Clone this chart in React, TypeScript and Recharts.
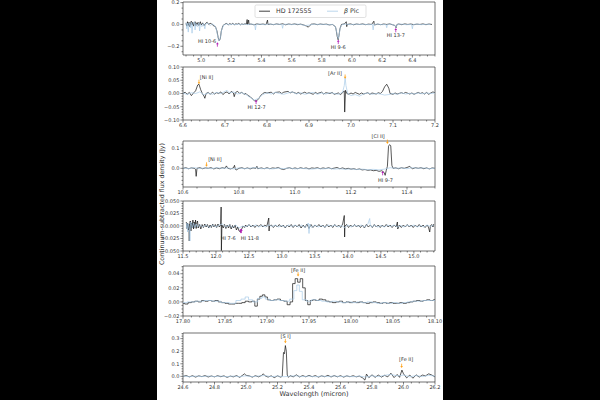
import React from "react";
import { ComposedChart, Line, XAxis, YAxis, ReferenceDot, ReferenceArea } from "recharts";

type Pt = [number, number];
type Feature = { name: string; wl: number; y: number; lx: number; ly: number; kind: "ion" | "hi" };

const HD_NAME = "HD 172555";
const BPIC_NAME = "Pic";
const X_LABEL = "Wavelength (micron)";
const Y_LABEL = "Continuum-subtracted flux density (Jy)";

// ---- panel 1: 4.9 - 6.5 micron ----
const P1_HD: Pt[] = [
  [4.9, 0.01], [4.905, -0.015], [4.91, 0.025], [4.915, -0.01], [4.92, 0.02], [4.925, -0.02], [4.93, 0.015], [4.935, 0.03],
  [4.94, -0.005], [4.945, 0.02], [4.95, -0.015], [4.955, 0.01], [4.96, 0.025], [4.965, -0.01], [4.97, 0.015], [4.975, 0.0],
  [4.98, 0.02], [4.985, -0.01], [4.99, 0.01], [4.995, 0.025], [5.0, -0.005], [5.01, 0.015], [5.02, -0.01], [5.03, 0.01],
  [5.04, 0.02], [5.05, 0.0], [5.06, 0.01], [5.07, 0.005], [5.08, -0.01], [5.095, -0.02], [5.105, -0.06], [5.113, -0.12],
  [5.12, -0.15], [5.127, -0.13], [5.134, -0.06], [5.145, -0.01], [5.16, 0.005], [5.17, 0.01], [5.18, -0.005], [5.19, 0.008],
  [5.2, 0.0], [5.21, 0.012], [5.22, -0.004], [5.23, 0.006], [5.24, 0.002], [5.25, 0.01], [5.26, -0.003], [5.27, 0.005],
  [5.28, 0.0], [5.29, 0.006], [5.3, 0.003], [5.305, 0.045], [5.308, 0.0], [5.315, 0.04], [5.318, 0.0], [5.33, 0.004],
  [5.35, -0.003], [5.37, 0.005], [5.39, 0.0], [5.41, 0.004], [5.43, -0.002], [5.44, 0.04], [5.443, 0.0], [5.46, 0.003],
  [5.48, -0.002], [5.5, 0.005], [5.52, 0.0], [5.54, 0.006], [5.56, -0.003], [5.58, 0.004], [5.6, 0.0], [5.62, 0.005],
  [5.64, -0.002], [5.66, 0.003], [5.68, -0.005], [5.7, -0.015], [5.71, -0.025], [5.72, -0.01], [5.73, 0.002], [5.75, 0.005],
  [5.77, -0.002], [5.79, 0.004], [5.81, 0.0], [5.83, 0.003], [5.85, -0.004], [5.87, 0.0], [5.89, -0.02], [5.895, -0.05],
  [5.902, -0.11], [5.908, -0.14], [5.914, -0.1], [5.92, -0.04], [5.93, 0.0], [5.95, 0.005], [5.962, 0.025], [5.965, -0.02],
  [5.968, 0.0], [5.99, 0.005], [6.01, -0.003], [6.03, 0.004], [6.05, 0.0], [6.07, 0.005], [6.09, -0.002], [6.11, 0.003],
  [6.13, 0.0], [6.145, 0.03], [6.148, -0.005], [6.17, 0.003], [6.19, -0.002], [6.21, 0.004], [6.23, 0.0], [6.25, 0.005],
  [6.27, -0.003], [6.285, -0.01], [6.292, -0.03], [6.298, 0.0], [6.31, 0.004], [6.33, -0.002], [6.35, 0.005], [6.37, 0.0],
  [6.39, 0.004], [6.41, -0.002], [6.43, 0.003], [6.45, 0.0], [6.47, 0.005], [6.49, -0.002], [6.51, 0.004], [6.53, 0.0],
];
const P1_BPIC: Pt[] = [
  [4.9, 0.02], [4.905, -0.04], [4.91, 0.01], [4.915, -0.07], [4.92, 0.015], [4.93, -0.03], [4.935, 0.02], [4.94, -0.08],
  [4.945, 0.005], [4.955, 0.025], [4.96, -0.05], [4.965, 0.01], [4.975, -0.02], [4.985, 0.015], [4.99, -0.06], [4.995, 0.005],
  [5.005, -0.02], [5.015, 0.01], [5.025, -0.04], [5.03, 0.005], [5.045, 0.01], [5.06, -0.01], [5.075, 0.005], [5.09, -0.01],
  [5.1, -0.04], [5.108, -0.09], [5.115, -0.14], [5.121, -0.15], [5.128, -0.12], [5.136, -0.05], [5.15, -0.005], [5.17, 0.005],
  [5.19, -0.003], [5.21, 0.004], [5.23, -0.002], [5.25, 0.003], [5.27, 0.0], [5.29, 0.004], [5.31, -0.002], [5.33, 0.003],
  [5.355, 0.0], [5.36, -0.05], [5.365, 0.0], [5.39, 0.003], [5.42, -0.002], [5.45, 0.004], [5.48, 0.0], [5.51, 0.003],
  [5.535, 0.0], [5.54, -0.035], [5.545, 0.0], [5.57, 0.003], [5.6, -0.002], [5.63, 0.004], [5.66, 0.0], [5.69, -0.01],
  [5.72, -0.005], [5.75, 0.003], [5.78, 0.0], [5.81, 0.002], [5.84, -0.003], [5.87, 0.0], [5.89, -0.02], [5.897, -0.06],
  [5.904, -0.11], [5.909, -0.13], [5.915, -0.09], [5.922, -0.03], [5.935, 0.0], [5.96, 0.003], [5.99, -0.002], [6.02, 0.003],
  [6.05, 0.0], [6.08, 0.002], [6.11, -0.002], [6.135, 0.0], [6.14, -0.05], [6.145, 0.0], [6.17, 0.003], [6.2, -0.002],
  [6.225, 0.0], [6.23, -0.03], [6.235, 0.0], [6.26, 0.002], [6.285, -0.01], [6.292, -0.025], [6.3, 0.0], [6.33, 0.003],
  [6.36, -0.002], [6.395, 0.0], [6.4, -0.04], [6.405, 0.0], [6.43, 0.003], [6.46, -0.002], [6.49, 0.002], [6.52, 0.0],
];
const P1_XTICKS = [5.0, 5.2, 5.4, 5.6, 5.8, 6.0, 6.2, 6.4];
const P1_YTICKS = [-0.2, 0.0, 0.2];
const P1_LINES: Feature[] = [
  { name: "HI 10-6", wl: 5.108, y: -0.18, lx: 5.04, ly: -0.15, kind: "hi" },
  { name: "HI 9-6", wl: 5.909, y: -0.156, lx: 5.909, ly: -0.208, kind: "hi" },
  { name: "HI 13-7", wl: 6.29, y: -0.048, lx: 6.29, ly: -0.095, kind: "hi" },
];

// ---- panel 2: 6.6 - 7.2 micron ----
const P2_HD: Pt[] = [
  [6.6, 0.0], [6.605, 0.005], [6.61, -0.003], [6.615, 0.004], [6.62, -0.008], [6.625, 0.002], [6.63, 0.01], [6.635, 0.032],
  [6.638, 0.035], [6.642, 0.015], [6.646, 0.0], [6.65, -0.01], [6.652, -0.018], [6.655, 0.0], [6.66, 0.004], [6.665, -0.003],
  [6.67, 0.005], [6.675, -0.002], [6.68, 0.003], [6.685, 0.0], [6.69, 0.006], [6.695, -0.004], [6.7, 0.003], [6.705, 0.006],
  [6.71, -0.002], [6.715, 0.008], [6.72, 0.002], [6.722, -0.012], [6.725, 0.004], [6.73, 0.008], [6.735, 0.0], [6.74, 0.005],
  [6.745, -0.003], [6.75, 0.0], [6.755, -0.008], [6.76, -0.012], [6.765, -0.02], [6.77, -0.027], [6.775, -0.028], [6.78, -0.02],
  [6.785, -0.008], [6.79, 0.0], [6.795, 0.004], [6.8, 0.002], [6.81, 0.005], [6.815, -0.002], [6.82, 0.004], [6.83, 0.006],
  [6.835, 0.0], [6.84, 0.005], [6.85, 0.008], [6.855, 0.002], [6.86, 0.006], [6.87, 0.0], [6.875, 0.004], [6.88, -0.002],
  [6.89, 0.005], [6.895, 0.0], [6.9, 0.003], [6.91, -0.003], [6.915, 0.004], [6.92, 0.0], [6.93, 0.005], [6.935, -0.002],
  [6.94, 0.003], [6.95, 0.0], [6.955, 0.004], [6.96, -0.003], [6.97, 0.002], [6.975, -0.004], [6.98, 0.003], [6.984, 0.01],
  [6.985, -0.07], [6.987, 0.012], [6.99, 0.0], [6.995, -0.003], [7.0, 0.002], [7.005, -0.002], [7.01, 0.004], [7.02, -0.003],
  [7.025, 0.002], [7.03, -0.002], [7.04, 0.003], [7.045, -0.003], [7.05, 0.002], [7.06, -0.002], [7.065, 0.003], [7.07, 0.0],
  [7.075, 0.008], [7.08, 0.025], [7.085, 0.035], [7.09, 0.02], [7.093, 0.0], [7.1, -0.003], [7.105, 0.002], [7.11, -0.002],
  [7.12, 0.003], [7.125, 0.0], [7.13, 0.004], [7.14, -0.002], [7.145, 0.002], [7.15, -0.003], [7.16, 0.004], [7.165, 0.0],
  [7.17, 0.003], [7.175, -0.002], [7.18, 0.004], [7.185, -0.003], [7.19, 0.002], [7.195, 0.006], [7.2, 0.003],
];
const P2_BPIC: Pt[] = [
  [6.6, 0.002], [6.61, -0.004], [6.62, 0.003], [6.63, 0.0], [6.64, 0.006], [6.65, -0.005], [6.66, 0.002], [6.67, -0.003],
  [6.68, 0.004], [6.69, 0.0], [6.7, 0.008], [6.705, 0.012], [6.71, 0.002], [6.72, 0.006], [6.73, -0.002], [6.74, 0.003],
  [6.75, -0.004], [6.76, -0.015], [6.77, -0.025], [6.78, -0.018], [6.79, -0.004], [6.8, 0.003], [6.81, -0.002], [6.82, 0.004],
  [6.83, 0.0], [6.84, -0.003], [6.85, 0.002], [6.86, 0.006], [6.87, -0.002], [6.88, 0.003], [6.89, -0.003], [6.9, 0.001],
  [6.91, 0.004], [6.92, -0.003], [6.93, 0.002], [6.94, -0.002], [6.95, 0.003], [6.96, 0.0], [6.97, -0.003], [6.98, 0.005],
  [6.984, 0.03], [6.986, 0.06], [6.988, 0.03], [6.992, 0.0], [7.0, -0.008], [7.01, -0.004], [7.02, -0.01], [7.03, -0.002],
  [7.04, 0.002], [7.05, -0.003], [7.06, 0.0], [7.07, -0.002], [7.08, -0.006], [7.09, -0.004], [7.1, 0.0], [7.11, -0.003],
  [7.12, 0.002], [7.13, -0.002], [7.14, 0.001], [7.15, -0.002], [7.16, 0.002], [7.17, -0.001], [7.18, 0.002], [7.19, 0.0],
  [7.2, 0.002],
];
const P2_XTICKS = [6.6, 6.7, 6.8, 6.9, 7.0, 7.1, 7.2];
const P2_YTICKS = [-0.1, -0.05, 0.0, 0.05, 0.1];
const P2_LINES: Feature[] = [
  { name: "[Ni II]", wl: 6.638, y: 0.042, lx: 6.656, ly: 0.062, kind: "ion" },
  { name: "HI 12-7", wl: 6.774, y: -0.03, lx: 6.775, ly: -0.05, kind: "hi" },
  { name: "[Ar II]", wl: 6.986, y: 0.062, lx: 6.962, ly: 0.077, kind: "ion" },
];

// ---- panel 3: 10.6 - 11.5 micron ----
const P3_HD: Pt[] = [
  [10.6, 0.0], [10.61, 0.003], [10.62, -0.002], [10.63, 0.002], [10.64, 0.0], [10.645, -0.005], [10.647, -0.04], [10.65, 0.0],
  [10.66, 0.003], [10.67, -0.002], [10.68, 0.002], [10.69, 0.0], [10.7, 0.003], [10.71, -0.003], [10.72, 0.002], [10.73, -0.002],
  [10.74, 0.003], [10.75, 0.0], [10.755, 0.012], [10.76, 0.0], [10.77, -0.003], [10.78, 0.002], [10.784, 0.015], [10.787, -0.005],
  [10.79, -0.008], [10.8, 0.0], [10.81, 0.003], [10.82, -0.002], [10.83, 0.002], [10.84, -0.003], [10.85, 0.002], [10.86, 0.0],
  [10.864, 0.01], [10.867, -0.002], [10.88, 0.002], [10.89, -0.002], [10.9, 0.003], [10.91, -0.002], [10.92, 0.002], [10.93, 0.0],
  [10.94, 0.004], [10.95, -0.003], [10.96, -0.006], [10.97, 0.0], [10.98, 0.003], [10.99, -0.002], [11.0, 0.002], [11.01, -0.002],
  [11.02, 0.003], [11.03, -0.001], [11.04, 0.002], [11.05, -0.003], [11.06, 0.002], [11.07, 0.0], [11.08, 0.003], [11.09, -0.002],
  [11.1, 0.002], [11.11, -0.001], [11.12, 0.003], [11.13, -0.002], [11.14, 0.001], [11.15, 0.004], [11.16, -0.002], [11.17, 0.002],
  [11.18, -0.003], [11.19, 0.0], [11.2, -0.004], [11.21, -0.002], [11.22, -0.006], [11.23, -0.003], [11.24, -0.008], [11.25, -0.006],
  [11.26, -0.01], [11.27, -0.008], [11.28, -0.012], [11.29, -0.01], [11.3, -0.015], [11.31, -0.012], [11.318, -0.02], [11.322, -0.035],
  [11.326, -0.01], [11.33, 0.01], [11.334, 0.11], [11.338, 0.118], [11.342, 0.112], [11.346, 0.015], [11.35, 0.0], [11.36, 0.002],
  [11.37, -0.002], [11.38, 0.003], [11.39, 0.0], [11.4, 0.004], [11.41, 0.01], [11.415, 0.002], [11.42, -0.002], [11.43, 0.003],
  [11.44, 0.0], [11.45, 0.003], [11.46, -0.002], [11.47, 0.002], [11.48, -0.003], [11.49, 0.002], [11.5, 0.0],
];
const P3_BPIC: Pt[] = [
  [10.6, 0.002], [10.62, -0.002], [10.64, 0.003], [10.66, -0.001], [10.68, 0.002], [10.7, -0.002], [10.72, 0.003], [10.74, 0.0],
  [10.76, 0.002], [10.78, -0.003], [10.8, 0.002], [10.82, -0.002], [10.84, 0.001], [10.86, 0.003], [10.88, -0.002], [10.9, 0.0],
  [10.92, -0.003], [10.94, 0.001], [10.96, -0.002], [10.98, 0.002], [11.0, -0.003], [11.02, 0.0], [11.04, -0.002], [11.06, -0.004],
  [11.08, -0.001], [11.1, -0.003], [11.12, 0.0], [11.14, -0.004], [11.16, -0.002], [11.18, -0.005], [11.2, -0.003], [11.22, -0.006],
  [11.24, -0.004], [11.26, -0.007], [11.28, -0.005], [11.3, -0.008], [11.32, -0.004], [11.34, 0.003], [11.36, 0.0], [11.38, 0.002],
  [11.4, -0.002], [11.42, 0.003], [11.44, 0.0], [11.46, 0.002], [11.48, -0.002], [11.5, 0.001],
];
const P3_XTICKS = [10.6, 10.8, 11.0, 11.2, 11.4];
const P3_YTICKS = [0.0, 0.1];
const P3_LINES: Feature[] = [
  { name: "[Ni II]", wl: 10.684, y: 0.017, lx: 10.714, ly: 0.045, kind: "ion" },
  { name: "HI 9-7", wl: 11.313, y: -0.022, lx: 11.323, ly: -0.058, kind: "hi" },
  { name: "[Cl II]", wl: 11.33, y: 0.13, lx: 11.297, ly: 0.158, kind: "ion" },
];

// ---- panel 4: 11.5 - 15.3 micron ----
const P4_HD: Pt[] = [
  [11.55, 0.008], [11.56, -0.005], [11.57, 0.006], [11.58, -0.008], [11.59, 0.004], [11.595, -0.03], [11.6, 0.0], [11.61, 0.01],
  [11.62, -0.01], [11.63, 0.006], [11.64, -0.004], [11.65, 0.012], [11.66, -0.006], [11.67, 0.008], [11.68, -0.003], [11.69, 0.012],
  [11.7, -0.005], [11.71, 0.006], [11.72, 0.01], [11.73, -0.004], [11.75, 0.004], [11.77, -0.006], [11.79, 0.003], [11.81, -0.003],
  [11.83, 0.004], [11.85, -0.002], [11.87, 0.003], [11.89, -0.004], [11.91, 0.002], [11.93, -0.003], [11.95, 0.004], [11.97, -0.002],
  [11.99, 0.003], [12.01, -0.003], [12.03, 0.004], [12.05, -0.002], [12.07, 0.002], [12.078, 0.038], [12.082, -0.049], [12.09, 0.002],
  [12.11, -0.004], [12.13, 0.003], [12.15, -0.005], [12.17, 0.002], [12.19, -0.004], [12.21, 0.003], [12.23, -0.006], [12.25, 0.001],
  [12.27, -0.004], [12.29, 0.002], [12.31, -0.008], [12.33, -0.002], [12.35, -0.01], [12.37, -0.012], [12.39, -0.006], [12.41, 0.0],
  [12.43, -0.003], [12.45, 0.002], [12.47, -0.002], [12.5, 0.003], [12.53, -0.002], [12.56, 0.002], [12.59, -0.003], [12.62, 0.002],
  [12.65, -0.001], [12.68, 0.003], [12.71, -0.002], [12.74, 0.002], [12.77, -0.001], [12.8, 0.016], [12.805, -0.01], [12.81, 0.0],
  [12.84, 0.002], [12.87, -0.003], [12.9, 0.002], [12.93, -0.002], [12.96, 0.003], [12.99, -0.002], [13.02, 0.002], [13.05, -0.004],
  [13.08, 0.002], [13.11, -0.002], [13.14, 0.003], [13.17, -0.003], [13.2, 0.002], [13.23, -0.002], [13.26, 0.003], [13.29, -0.004],
  [13.32, 0.002], [13.35, -0.003], [13.38, 0.004], [13.41, -0.005], [13.44, 0.003], [13.47, -0.003], [13.5, 0.002], [13.53, -0.002],
  [13.56, 0.003], [13.59, -0.002], [13.62, 0.002], [13.65, -0.003], [13.68, 0.003], [13.71, -0.002], [13.74, 0.002], [13.77, -0.003],
  [13.8, 0.003], [13.83, -0.002], [13.86, 0.002], [13.89, -0.003], [13.92, 0.004], [13.945, 0.021], [13.95, -0.022], [13.955, 0.0],
  [13.98, 0.003], [14.01, -0.003], [14.04, 0.002], [14.07, -0.002], [14.1, 0.003], [14.13, -0.002], [14.16, 0.002], [14.19, -0.003],
  [14.22, 0.002], [14.25, -0.004], [14.28, 0.003], [14.31, -0.002], [14.34, 0.002], [14.37, -0.003], [14.4, 0.003], [14.43, -0.002],
  [14.46, 0.002], [14.49, -0.003], [14.52, 0.002], [14.55, -0.002], [14.58, 0.003], [14.61, -0.002], [14.64, 0.002], [14.67, -0.003],
  [14.7, 0.002], [14.73, -0.002], [14.75, 0.008], [14.755, -0.006], [14.78, 0.002], [14.81, -0.003], [14.84, 0.002], [14.87, -0.002],
  [14.9, 0.003], [14.93, -0.002], [14.96, 0.002], [14.99, -0.003], [15.02, 0.002], [15.05, -0.002], [15.08, 0.003], [15.11, -0.002],
  [15.14, 0.002], [15.17, -0.003], [15.2, 0.002], [15.22, -0.002], [15.24, -0.012], [15.25, 0.0], [15.27, 0.003], [15.29, -0.002],
  [15.3, 0.004],
];
const P4_BPIC: Pt[] = [
  [11.55, -0.004], [11.56, 0.006], [11.57, -0.012], [11.58, 0.004], [11.6, -0.008], [11.605, -0.03], [11.61, 0.0], [11.62, 0.008],
  [11.64, -0.004], [11.66, 0.006], [11.68, -0.003], [11.7, 0.004], [11.72, -0.002], [11.75, 0.003], [11.8, -0.002], [11.85, 0.002],
  [11.9, -0.003], [11.95, 0.002], [12.0, -0.002], [12.05, 0.002], [12.1, 0.004], [12.15, -0.002], [12.2, 0.002], [12.25, -0.003],
  [12.3, 0.002], [12.35, -0.004], [12.4, 0.0], [12.45, -0.002], [12.5, 0.002], [12.55, -0.001], [12.6, 0.002], [12.65, -0.002],
  [12.7, 0.001], [12.75, -0.002], [12.8, 0.002], [12.85, -0.001], [12.9, 0.002], [12.95, -0.002], [13.0, 0.001], [13.05, -0.002],
  [13.1, 0.002], [13.15, -0.001], [13.2, 0.002], [13.25, -0.002], [13.3, 0.002], [13.35, -0.003], [13.4, 0.006], [13.41, -0.015],
  [13.42, 0.004], [13.45, -0.003], [13.5, 0.002], [13.55, -0.002], [13.6, 0.001], [13.65, -0.002], [13.7, 0.002], [13.75, -0.001],
  [13.8, 0.002], [13.85, -0.002], [13.9, 0.001], [13.95, -0.003], [14.0, 0.002], [14.05, -0.002], [14.1, 0.002], [14.15, -0.001],
  [14.2, 0.002], [14.25, -0.002], [14.3, 0.003], [14.33, 0.015], [14.34, 0.0], [14.37, -0.002], [14.4, 0.002], [14.45, -0.002],
  [14.5, 0.001], [14.55, -0.002], [14.6, 0.002], [14.65, -0.001], [14.7, 0.002], [14.75, -0.002], [14.8, 0.001], [14.85, -0.002],
  [14.9, 0.002], [14.95, -0.001], [15.0, 0.002], [15.05, -0.002], [15.1, 0.001], [15.15, -0.002], [15.2, 0.002], [15.25, -0.001],
  [15.3, 0.002],
];
const P4_XTICKS = [11.5, 12.0, 12.5, 13.0, 13.5, 14.0, 14.5, 15.0];
const P4_YTICKS = [-0.05, -0.025, 0.0, 0.025, 0.05];
const P4_LINES: Feature[] = [
  { name: "HI 7-6", wl: 12.372, y: -0.009, lx: 12.185, ly: -0.024, kind: "hi" },
  { name: "HI 11-8", wl: 12.387, y: -0.009, lx: 12.515, ly: -0.024, kind: "hi" },
];

// ---- panel 5: 17.80 - 18.10 micron ----
const P5_HD: Pt[] = [
  [17.8, -0.002], [17.804, -0.003], [17.808, -0.001], [17.812, 0.0], [17.816, 0.001], [17.82, 0.0], [17.824, 0.002], [17.828, 0.001],
  [17.832, 0.002], [17.836, 0.001], [17.84, 0.002], [17.844, 0.0], [17.848, -0.001], [17.852, -0.002], [17.856, -0.003], [17.86, -0.003],
  [17.864, -0.002], [17.868, -0.002], [17.872, -0.001], [17.876, 0.001], [17.88, 0.0], [17.884, 0.001], [17.887, -0.006], [17.89, 0.004],
  [17.893, 0.008], [17.896, 0.01], [17.899, 0.007], [17.902, 0.003], [17.906, 0.002], [17.91, 0.003], [17.914, 0.004], [17.918, 0.002],
  [17.922, 0.001], [17.926, -0.004], [17.929, 0.0], [17.932, 0.026], [17.935, 0.033], [17.938, 0.028], [17.941, 0.033], [17.944, 0.02],
  [17.947, 0.002], [17.95, -0.004], [17.953, 0.002], [17.956, 0.003], [17.96, 0.002], [17.964, 0.004], [17.968, 0.003], [17.972, 0.001],
  [17.976, 0.0], [17.98, -0.001], [17.984, 0.0], [17.988, 0.001], [17.992, -0.001], [17.996, 0.0], [18.0, -0.001], [18.004, 0.0],
  [18.008, -0.001], [18.012, 0.0], [18.016, -0.001], [18.02, -0.002], [18.024, -0.001], [18.028, 0.0], [18.032, -0.001], [18.036, -0.002],
  [18.04, -0.001], [18.044, -0.002], [18.048, -0.001], [18.052, -0.002], [18.056, -0.002], [18.06, -0.001], [18.064, -0.002], [18.068, -0.001],
  [18.072, 0.0], [18.076, 0.001], [18.08, 0.002], [18.084, 0.001], [18.088, 0.002], [18.092, 0.003], [18.096, 0.002], [18.1, 0.003],
];
const P5_BPIC: Pt[] = [
  [17.8, -0.001], [17.81, 0.0], [17.82, 0.001], [17.83, 0.002], [17.84, 0.001], [17.85, -0.001], [17.86, -0.002], [17.866, 0.002],
  [17.872, 0.004], [17.876, 0.007], [17.88, 0.003], [17.886, 0.0], [17.892, 0.005], [17.896, 0.007], [17.9, 0.004], [17.906, 0.002],
  [17.912, 0.003], [17.918, 0.002], [17.924, 0.001], [17.93, 0.004], [17.934, 0.016], [17.937, 0.024], [17.94, 0.015], [17.944, 0.003],
  [17.95, 0.001], [17.956, 0.003], [17.962, 0.002], [17.968, 0.001], [17.974, 0.0], [17.98, 0.001], [17.986, 0.0], [17.992, -0.001],
  [17.998, 0.0], [18.004, -0.001], [18.01, 0.0], [18.016, -0.001], [18.022, 0.0], [18.028, -0.001], [18.034, -0.002], [18.04, -0.001],
  [18.046, -0.002], [18.052, -0.001], [18.058, -0.002], [18.064, -0.001], [18.07, 0.0], [18.076, 0.001], [18.082, 0.001], [18.088, 0.002],
  [18.094, 0.002], [18.1, 0.002],
];
const P5_XTICKS = [17.8, 17.85, 17.9, 17.95, 18.0, 18.05, 18.1];
const P5_YTICKS = [-0.02, 0.0, 0.02, 0.04];
const P5_LINES: Feature[] = [{ name: "[Fe II]", wl: 17.937, y: 0.0386, lx: 17.937, ly: 0.0456, kind: "ion" }];

// ---- panel 6: 24.6 - 26.2 micron ----
const P6_HD: Pt[] = [
  [24.6, 0.0], [24.62, 0.006], [24.64, -0.004], [24.66, 0.005], [24.68, -0.006], [24.7, 0.004], [24.72, -0.002], [24.74, 0.006],
  [24.76, -0.005], [24.78, 0.003], [24.8, -0.004], [24.82, 0.005], [24.84, -0.003], [24.86, 0.004], [24.88, -0.008], [24.9, 0.002],
  [24.92, -0.004], [24.94, 0.006], [24.96, -0.008], [24.98, 0.01], [24.99, 0.02], [25.0, 0.008], [25.02, 0.004], [25.04, -0.006],
  [25.06, 0.005], [25.08, -0.004], [25.1, 0.008], [25.11, 0.02], [25.12, 0.005], [25.14, -0.006], [25.16, 0.004], [25.18, -0.01],
  [25.2, 0.004], [25.22, -0.006], [25.23, 0.0], [25.238, 0.19], [25.244, 0.18], [25.25, 0.245], [25.256, 0.2], [25.262, 0.01],
  [25.27, -0.008], [25.28, 0.005], [25.3, -0.004], [25.32, 0.012], [25.34, -0.005], [25.36, 0.006], [25.38, -0.004], [25.4, 0.008],
  [25.42, -0.003], [25.44, 0.006], [25.46, -0.006], [25.48, 0.004], [25.5, -0.003], [25.52, 0.008], [25.54, -0.005], [25.56, 0.006],
  [25.58, -0.004], [25.6, 0.005], [25.62, -0.006], [25.64, 0.004], [25.66, -0.003], [25.68, 0.005], [25.7, -0.004], [25.72, 0.002],
  [25.74, -0.012], [25.755, -0.03], [25.765, 0.018], [25.78, -0.01], [25.8, 0.012], [25.82, -0.008], [25.84, 0.01], [25.86, -0.006],
  [25.88, 0.008], [25.9, -0.004], [25.92, 0.025], [25.94, -0.01], [25.96, 0.015], [25.975, -0.008], [25.99, 0.05], [26.0, 0.02],
  [26.02, -0.012], [26.04, 0.01], [26.06, -0.015], [26.08, 0.012], [26.1, -0.006], [26.12, 0.01], [26.14, 0.004], [26.16, 0.02],
  [26.18, 0.01], [26.2, -0.004],
];
const P6_BPIC: Pt[] = [
  [24.6, 0.003], [24.64, -0.003], [24.68, 0.002], [24.72, -0.002], [24.76, 0.003], [24.8, -0.002], [24.84, 0.002], [24.88, -0.003],
  [24.92, 0.002], [24.96, -0.002], [25.0, 0.004], [25.04, -0.002], [25.08, 0.003], [25.12, 0.006], [25.16, -0.002], [25.2, 0.002],
  [25.24, -0.003], [25.28, 0.002], [25.32, 0.004], [25.36, -0.002], [25.4, 0.002], [25.44, -0.003], [25.48, 0.002], [25.52, -0.002],
  [25.56, 0.003], [25.6, -0.002], [25.64, 0.002], [25.68, -0.003], [25.72, 0.002], [25.76, -0.006], [25.8, 0.004], [25.84, -0.002],
  [25.88, 0.008], [25.92, 0.015], [25.96, 0.004], [26.0, 0.01], [26.04, -0.004], [26.08, 0.006], [26.12, -0.002], [26.16, 0.008],
  [26.2, 0.002],
];
const P6_XTICKS = [24.6, 24.8, 25.0, 25.2, 25.4, 25.6, 25.8, 26.0, 26.2];
const P6_YTICKS = [0.0, 0.1, 0.2, 0.3];
const P6_LINES: Feature[] = [
  { name: "[S I]", wl: 25.25, y: 0.278, lx: 25.252, ly: 0.318, kind: "ion" },
  { name: "[Fe II]", wl: 25.988, y: 0.08, lx: 26.017, ly: 0.133, kind: "ion" },
];

const HD_COLOR = "#111111";
const BPIC_COLOR = "#a9cbe8";
const ION_COLOR = "#ffa31a";
const HI_COLOR = "#b51fb5";
const TEXT_COLOR = "#333333";
const FONT = "DejaVu Sans, sans-serif";

const minorTicks = (lo: number, hi: number, step: number) => {
  const out: number[] = [];
  for (let v = Math.ceil(lo / step - 1e-9) * step; v <= hi + 1e-9; v += step) out.push(+v.toFixed(6));
  return out;
};

const PANELS = [
  { hd: P1_HD, bp: P1_BPIC, xd: [4.88, 6.55], yd: [-0.28, 0.206], xt: P1_XTICKS, yt: P1_YTICKS, xm: 0.05, ym: 0.05, xf: 1, yf: 1, lines: P1_LINES, step: false, top: 2, h: 53 },
  { hd: P2_HD, bp: P2_BPIC, xd: [6.6, 7.2], yd: [-0.1, 0.1], xt: P2_XTICKS, yt: P2_YTICKS, xm: 0.02, ym: 0.01, xf: 1, yf: 2, lines: P2_LINES, step: false, top: 67, h: 53 },
  { hd: P3_HD, bp: P3_BPIC, xd: [10.6, 11.5], yd: [-0.093, 0.136], xt: P3_XTICKS, yt: P3_YTICKS, xm: 0.05, ym: 0.02, xf: 1, yf: 1, lines: P3_LINES, step: false, top: 141, h: 46 },
  { hd: P4_HD, bp: P4_BPIC, xd: [11.5, 15.32], yd: [-0.05, 0.05], xt: P4_XTICKS, yt: P4_YTICKS, xm: 0.1, ym: 0.005, xf: 1, yf: 3, lines: P4_LINES, step: false, top: 201, h: 50 },
  { hd: P5_HD, bp: P5_BPIC, xd: [17.8, 18.1], yd: [-0.02, 0.051], xt: P5_XTICKS, yt: P5_YTICKS, xm: 0.01, ym: 0.005, xf: 2, yf: 2, lines: P5_LINES, step: true, top: 266, h: 50 },
  { hd: P6_HD, bp: P6_BPIC, xd: [24.6, 26.2], yd: [-0.045, 0.345], xt: P6_XTICKS, yt: P6_YTICKS, xm: 0.05, ym: 0.02, xf: 1, yf: 1, lines: P6_LINES, step: false, top: 333, h: 49 },
];

const fmt = (v: number, d: number) => {
  const s = Math.abs(v).toFixed(d);
  return v < -1e-9 ? "\u2212" + s : s;
};
const isMajor = (v: number, majors: number[]) => majors.some((m) => Math.abs(m - v) < 1e-7);

const makeXTick = (majors: number[], d: number) => (p: any) => {
  const major = isMajor(p.payload.value, majors);
  return (
    <g>
      <line x1={p.x} x2={p.x} y1={p.y} y2={p.y + (major ? 2.6 : 1.5)} stroke="#333" strokeWidth={0.6} />
      {major && (
        <text x={p.x} y={p.y + 3.6} dy="0.74em" textAnchor="middle" fontSize={5} fill={TEXT_COLOR} fontFamily={FONT}>
          {fmt(p.payload.value, d)}
        </text>
      )}
    </g>
  );
};
const makeYTick = (majors: number[], d: number) => (p: any) => {
  const major = isMajor(p.payload.value, majors);
  return (
    <g>
      <line x1={p.x - (major ? 2.6 : 1.5)} x2={p.x} y1={p.y} y2={p.y} stroke="#333" strokeWidth={0.6} />
      {major && (
        <text x={p.x - 3.6} y={p.y} dy="0.35em" textAnchor="end" fontSize={5} fill={TEXT_COLOR} fontFamily={FONT}>
          {fmt(p.payload.value, d)}
        </text>
      )}
    </g>
  );
};

const markerShape = (kind: "ion" | "hi") => (p: any) => {
  const { cx, cy } = p;
  const c = kind === "ion" ? ION_COLOR : HI_COLOR;
  const s = kind === "ion" ? 1 : -1;
  return (
    <g>
      <line x1={cx} x2={cx} y1={cy - 2.6 * s} y2={cy + 0.4 * s} stroke={c} strokeWidth={0.8} />
      <path d={`M${cx - 1.3},${cy - 0.2 * s} L${cx + 1.3},${cy - 0.2 * s} L${cx},${cy + 1.8 * s} Z`} fill={c} />
    </g>
  );
};
const labelShape = (name: string) => (p: any) => (
  <text x={p.cx} y={p.cy} dy="0.35em" textAnchor="middle" fontSize={5} fill={TEXT_COLOR} fontFamily={FONT}>
    {name}
  </text>
);

const rows = (pts: Pt[]) => pts.map(([x, y]) => ({ x, y }));

const MARGIN_TOP = 8;
const CHART_W = 300;

function Panel({ cfg }: { cfg: (typeof PANELS)[number] }) {
  const xAll = Array.from(new Set([...cfg.xt, ...minorTicks(cfg.xd[0], cfg.xd[1], cfg.xm)])).sort((a, b) => a - b);
  const yAll = Array.from(new Set([...cfg.yt, ...minorTicks(cfg.yd[0], cfg.yd[1], cfg.ym)])).sort((a, b) => a - b);
  const curve = cfg.step ? "step" : "linear";
  return (
    <div style={{ position: "absolute", left: -14, top: cfg.top - MARGIN_TOP }}>
      <ComposedChart
        width={CHART_W}
        height={cfg.h + MARGIN_TOP + 10}
        margin={{ top: MARGIN_TOP, right: 8, bottom: 0, left: 0 }}
        style={{ overflow: "visible" }}
      >
        <XAxis
          dataKey="x"
          type="number"
          domain={cfg.xd}
          allowDataOverflow
          ticks={xAll}
          interval={0}
          height={10}
          axisLine={false}
          tickLine={false}
          tickSize={0}
          tickMargin={0}
          tick={makeXTick(cfg.xt, cfg.xf)}
        />
        <YAxis
          type="number"
          domain={cfg.yd}
          allowDataOverflow
          ticks={yAll}
          interval={0}
          width={40}
          axisLine={false}
          tickLine={false}
          tickSize={0}
          tickMargin={0}
          tick={makeYTick(cfg.yt, cfg.yf)}
        />
        <Line data={rows(cfg.hd)} dataKey="y" type={curve} stroke={HD_COLOR} strokeWidth={0.7} dot={false} isAnimationActive={false} />
        <Line data={rows(cfg.bp)} dataKey="y" type={curve} stroke={BPIC_COLOR} strokeWidth={0.7} dot={false} isAnimationActive={false} />
        <ReferenceArea
          x1={cfg.xd[0]}
          x2={cfg.xd[1]}
          y1={cfg.yd[0]}
          y2={cfg.yd[1]}
          fill="none"
          fillOpacity={0}
          stroke="#333"
          strokeWidth={0.7}
          ifOverflow="visible"
        />
        {cfg.lines.map((f) => (
          <ReferenceDot key={f.name + "m"} x={f.wl} y={f.y} r={0} ifOverflow="visible" shape={markerShape(f.kind)} />
        ))}
        {cfg.lines.map((f) => (
          <ReferenceDot key={f.name + "l"} x={f.lx} y={f.ly} r={0} ifOverflow="visible" shape={labelShape(f.name)} />
        ))}
      </ComposedChart>
    </div>
  );
}

export default function App() {
  return (
    <div style={{ position: "absolute", left: 0, top: 0, width: 600, height: 400, background: "#000" }}>
      <div style={{ position: "absolute", left: 157, top: 0, width: 286, height: 400, background: "#fff", overflow: "hidden" }}>
        {PANELS.map((cfg, i) => (
          <Panel key={i} cfg={cfg} />
        ))}
        <svg width={600} height={400} style={{ position: "absolute", left: -157, top: 0 }} fontFamily={FONT}>
          <g>
            <rect x={255} y={5} width={111} height={12.5} rx={1.5} fill="#fff" fillOpacity={0.85} stroke="#ccc" strokeWidth={0.6} />
            <line x1={259} x2={270} y1={11.2} y2={11.2} stroke={HD_COLOR} strokeWidth={0.8} />
            <text x={276} y={11.2} dy="0.35em" fontSize={6.3} fill={TEXT_COLOR}>
              {HD_NAME}
            </text>
            <line x1={327} x2={338} y1={11.2} y2={11.2} stroke={BPIC_COLOR} strokeWidth={0.8} />
            <text x={344} y={11.2} dy="0.35em" fontSize={6.3} fill={TEXT_COLOR}>
              <tspan fontStyle="italic">β</tspan> {BPIC_NAME}
            </text>
          </g>
          <text x={161.5} y={204} dy="0.35em" textAnchor="middle" fontSize={6.3} fill={TEXT_COLOR} transform="rotate(-90 161.5 204)">
            {Y_LABEL}
          </text>
          <text x={314} y={394} dy="0.35em" textAnchor="middle" fontSize={6.6} fill={TEXT_COLOR}>
            {X_LABEL}
          </text>
        </svg>
      </div>
    </div>
  );
}
